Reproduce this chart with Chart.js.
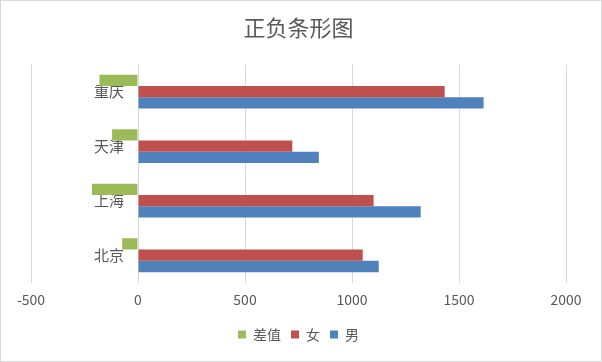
<!DOCTYPE html>
<html>
<head>
<meta charset="utf-8">
<script src="https://cdn.jsdelivr.net/npm/chart.js@4"></script>
<style>
html,body{margin:0;padding:0;background:#fff;}
#wrap{width:602px;height:362px;position:relative;}
</style>
</head>
<body>
<div id="wrap"><canvas id="c" width="602" height="362"></canvas></div>
<script>
const categories = ['重庆', '天津', '上海', '北京'];
const diffValues = [-180, -121, -215, -74];
const femaleValues = [1433, 721, 1101, 1050];
const maleValues = [1615, 845, 1321, 1125];
const xTicks = [-500, 0, 500, 1000, 1500, 2000];

const FONT = '"Noto Sans CJK SC", "Noto Sans", sans-serif';
const TXT = '#595959';

const borderPlugin = {
  id: 'outerBorder',
  beforeDraw(chart) {
    const ctx = chart.ctx;
    ctx.save();
    ctx.fillStyle = '#fff';
    ctx.fillRect(0, 0, chart.width, chart.height);
    ctx.strokeStyle = '#d9d9d9';
    ctx.lineWidth = 1;
    ctx.strokeRect(0.5, 0.5, chart.width - 1, chart.height - 1);
    ctx.restore();
  }
};

new Chart(document.getElementById('c'), {
  type: 'bar',
  data: {
    labels: categories,
    datasets: [
      { label: '差值', data: diffValues, backgroundColor: '#9BBB59' },
      { label: '女', data: femaleValues, backgroundColor: '#C0504D' },
      { label: '男', data: maleValues, backgroundColor: '#4F81BD' }
    ]
  },
  options: {
    indexAxis: 'y',
    responsive: false,
    animation: false,
    devicePixelRatio: 1,
    layout: { padding: { left: 31, right: 36, top: 6, bottom: 10.5 } },
    datasets: { bar: { barPercentage: 1, categoryPercentage: 0.62 } },
    scales: {
      x: {
        min: -500, max: 2000,
        afterBuildTicks(scale) { scale.ticks = xTicks.map(v => ({ value: v })); },
        grid: { color: '#d9d9d9', drawTicks: false },
        border: { display: false },
        ticks: {
          color: TXT, font: { family: FONT, size: 14, lineHeight: 0.857 }, padding: 11.5,
          callback: v => String(v)
        }
      },
      y: {
        position: { x: -65 },
        grid: { display: false, drawTicks: false },
        border: { display: false },
        ticks: { color: TXT, font: { family: FONT, size: 15 }, padding: 0 }
      }
    },
    plugins: {
      title: {
        display: true, text: '正负条形图', color: TXT,
        font: { family: FONT, size: 22, weight: 'normal' },
        padding: { top: 8, bottom: 24 }
      },
      legend: {
        position: 'bottom',
        labels: { color: TXT, font: { family: FONT, size: 14 }, boxWidth: 8, boxHeight: 8, padding: 10 }
      },
      tooltip: { enabled: false }
    }
  },
  plugins: [borderPlugin]
});
</script>
</body>
</html>
